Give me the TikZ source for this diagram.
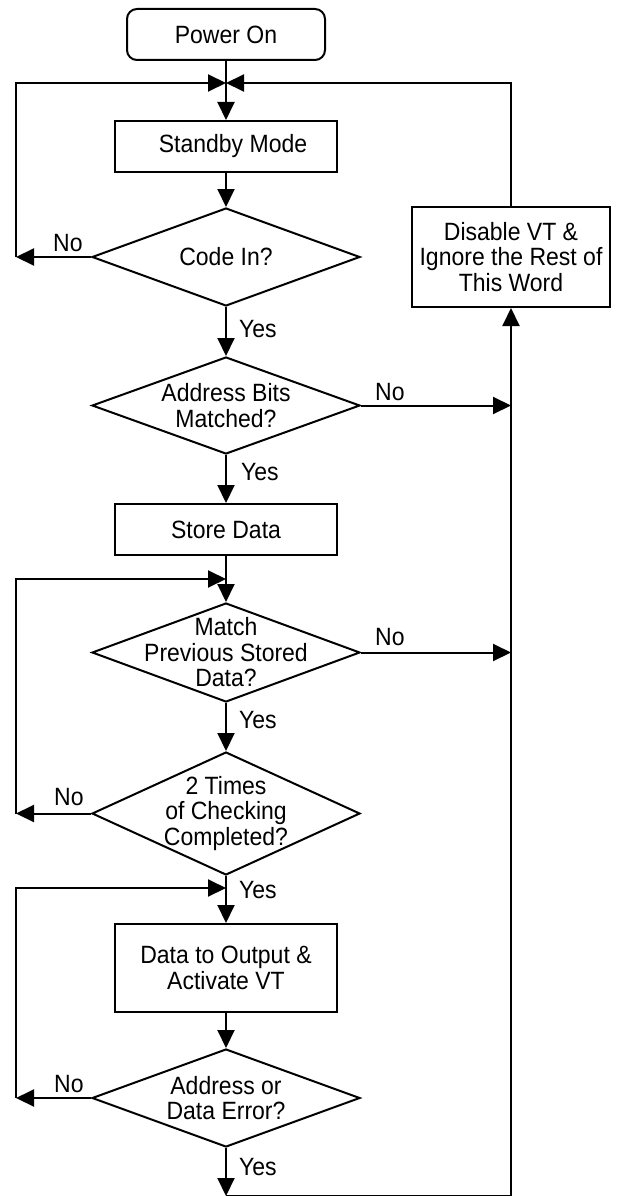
\documentclass[tikz,border=0pt]{standalone}
\usepackage{fontspec}
\setmainfont{Liberation Sans}[FakeStretch=0.92]
\usetikzlibrary{arrows.meta,shapes.geometric}
\begin{document}
\begin{tikzpicture}[x=1pt,y=-1pt,
  every node/.style={font=\fontsize{25}{25.5}\selectfont},
  box/.style={draw, line width=2pt, minimum width=222pt, minimum height=51pt, inner sep=0pt, align=center},
  dia/.style={draw, diamond, line width=2pt, minimum width=268pt, minimum height=98pt, inner sep=0pt},
  txt/.style={align=center, inner sep=0pt},
  lbl/.style={inner sep=0pt, anchor=base west},
  conn/.style={line width=2pt},
  arr/.style={conn, -{Triangle[length=18pt,width=17pt]}},
]
\useasboundingbox (0,0) rectangle (617,1196);
% nodes
\node[box, rounded corners=10pt, minimum width=198pt] (pwr) at (226,34.5) {Power On};
\coordinate (j) at (226,83);
\coordinate (L) at (16,0);
\node[box] (stb) at (226,146.5) {\hspace*{14pt}Standby Mode};
\node[dia] (d1) at (226,257) {};
\node[txt] (t1) at (d1.center) {Code In?};
\node[box, minimum width=198pt, minimum height=100pt] (dis) at (511,257) {Disable VT \&\\Ignore the Rest of\\This Word};
\node[dia, minimum height=97pt] (d2) at (226,405.5) {};
\node[txt] (t2) at (d2.center) {Address Bits\\Matched?};
\node[box] (sto) at (226,529.5) {Store Data};
\coordinate (e2) at (226,579);
\node[dia, minimum height=99pt] (d3) at (226,652.5) {};
\node[txt] (t3) at (d3.center) {Match\\Previous Stored\\Data?};
\node[dia, minimum height=123pt] (d4) at (226,813.5) {};
\node[txt] (t4) at (d4.center) {2 Times\\of Checking\\Completed?};
\coordinate (e3) at (226,888);
\node[box, minimum height=88pt] (out) at (226,968) {Data to Output \&\\Activate VT};
\node[dia] (d5) at (226,1098) {};
\node[txt] (t5) at (d5.center) {Address or\\Data Error?};
\coordinate (bot) at (226,1196);
\coordinate (br) at (511,1196);
% connectors
\draw[conn] (pwr.south) -- (j);
\draw[arr] (j) -- (stb.north);
\draw[arr] (stb.south) -- (d1.north);
\draw[arr] (d1.west) -- (d1.west -| L);
\draw[arr] (d1.west -| L) -- (L |- j) -- (j);
\draw[arr] (dis.north) -- (dis.north |- j) -- (j);
\draw[arr] (d1.south) -- (d2.north);
\draw[arr] (d2.east) -- (d2.east -| dis.south);
\draw[arr] (d2.south) -- (sto.north);
\draw[conn] (sto.south) -- (e2);
\draw[arr] (e2) -- (d3.north);
\draw[arr] (d4.west -| L) -- (L |- e2) -- (e2);
\draw[arr] (d3.east) -- (d3.east -| dis.south);
\draw[arr] (d3.south) -- (d4.north);
\draw[arr] (d4.west) -- (d4.west -| L);
\draw[conn] (d4.south) -- (e3);
\draw[arr] (e3) -- (out.north);
\draw[arr] (d5.west -| L) -- (L |- e3) -- (e3);
\draw[arr] (out.south) -- (d5.north);
\draw[arr] (d5.west) -- (d5.west -| L);
\draw[arr] (d5.south) -- (bot);
\draw[arr] (bot) -- (br) -- (dis.south);
% labels
\node[lbl] (y1) at (239,337) {Yes};
\node[lbl] (y2) at (241,480) {Yes};
\node[lbl] (y3) at (239,728) {Yes};
\node[lbl] (y4) at (239,898) {Yes};
\node[lbl] (y5) at (239,1175) {Yes};
\node[lbl] (n1) at (53,251) {No};
\node[lbl] (n2) at (375,400) {No};
\node[lbl] (n3) at (375,645) {No};
\node[lbl] (n4) at (54,805) {No};
\node[lbl] (n5) at (54,1092) {No};
\end{tikzpicture}
\end{document}
